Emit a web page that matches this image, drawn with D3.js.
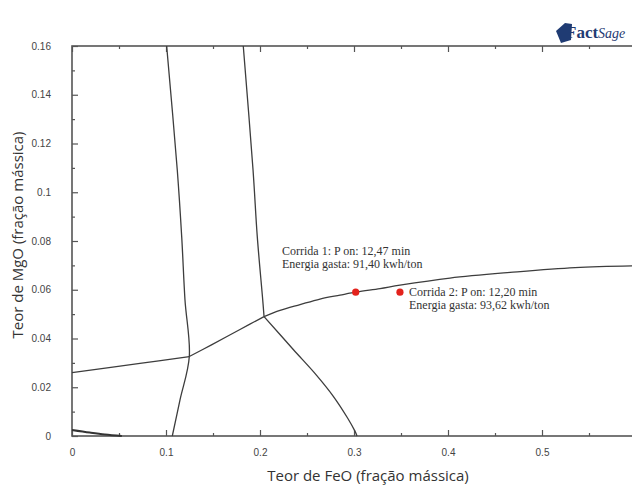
<!DOCTYPE html>
<html>
<head>
<meta charset="utf-8">
<script src="https://cdn.jsdelivr.net/npm/d3@7"></script>
<style>
  body { margin: 0; background: #fff; }
  svg { display: block; }
</style>
</head>
<body>
<div id="chartContainer"></div>
<script>

// tick values / labels
var xTickVals = [0, 0.1, 0.2, 0.3, 0.4, 0.5]
var xTickLabels = ['0', '0.1', '0.2', '0.3', '0.4', '0.5']
var yTickVals = [0, 0.02, 0.04, 0.06, 0.08, 0.1, 0.12, 0.14, 0.16]
var yTickLabels = ['0', '0.02', '0.04', '0.06', '0.08', '0.1', '0.12', '0.14', '0.16']

// phase boundaries, [FeO, MgO]
var boundaryA = [[0.1007, 0.16], [0.1120, 0.1091], [0.1167, 0.0818], [0.1202, 0.0558], [0.1248, 0.0326], [0.1149, 0.0148], [0.1067, 0]]
var boundaryB = [[0.1822, 0.16], [0.1926, 0.1091], [0.1971, 0.0818], [0.2029, 0.0558], [0.2043, 0.0490]]
var boundaryC = [[0.2043, 0.0490], [0.2354, 0.0355], [0.2600, 0.0250], [0.2780, 0.0163], [0.2930, 0.0075], [0.3010, 0.0020], [0.3032, 0]]
var boundaryLeft = [[0, 0.0260], [0.0723, 0.0298], [0.1248, 0.0326]]
var boundaryMid = [[0.1248, 0.0326], [0.1479, 0.0373], [0.1787, 0.0437], [0.2043, 0.0490]]
var boundaryRight = [[0.2043, 0.0490], [0.2213, 0.0515], [0.2426, 0.0539], [0.2638, 0.0562], [0.2851, 0.0578], [0.3032, 0.0591],
    [0.3277, 0.0605], [0.3489, 0.0619], [0.4021, 0.0648], [0.4660, 0.0671], [0.5351, 0.0691], [0.6, 0.0698]]
var boundaryCorner = [[0, 0.0025], [0.019, 0.0014], [0.035, 0.0006], [0.053, 0]]

// runs
var runFeO = [0.3018, 0.3489]
var runMgO = [0.0590, 0.0590]
var runLine1 = ['Corrida 1: P on: 12,47 min', 'Corrida 2: P on: 12,20 min']
var runLine2 = ['Energia gasta: 91,40 kwh/ton', 'Energia gasta: 93,62 kwh/ton']

var width = 632, height = 486
var margin = { left: 72, top: 46, bottom: 50 }

var svg = d3.select('#chartContainer').append('svg')
    .attr('width', width)
    .attr('height', height)

svg.append('rect').attr('width', width).attr('height', height).attr('fill', '#fff')

var xScale = d3.scaleLinear()
    .domain([0, 0.6])
    .range([margin.left, margin.left + 564])

var yScale = d3.scaleLinear()
    .domain([0, 0.16])
    .range([height - margin.bottom, margin.top])

var axisColor = '#555'

// minor ticks
var xMinor = d3.range(0.05, 0.6, 0.1)
var yMinor = d3.range(0.01, 0.16, 0.02)

function styleAxis(g) {
    g.select('.domain').remove()
    g.selectAll('line').attr('stroke', axisColor).attr('stroke-width', 1.2)
    g.selectAll('text').attr('fill', '#444').style('font-family', 'Liberation Sans, Arial, sans-serif').style('font-size', '10px')
}

var bottomY = yScale(0), topY = yScale(0.16)

svg.append('g')
    .attr('transform', 'translate(0,' + bottomY + ')')
    .call(d3.axisBottom(xScale).tickValues(xTickVals).tickSizeInner(-6).tickSizeOuter(0).tickPadding(13)
        .tickFormat(function(d, i) { return xTickLabels[i] }))
    .call(styleAxis)
svg.append('g')
    .attr('transform', 'translate(0,' + bottomY + ')')
    .call(d3.axisBottom(xScale).tickValues(xMinor).tickSizeInner(-3).tickSizeOuter(0).tickFormat(''))
    .call(styleAxis)

svg.append('g')
    .attr('transform', 'translate(0,' + topY + ')')
    .call(d3.axisTop(xScale).tickValues(xTickVals).tickSizeInner(-6).tickSizeOuter(0).tickFormat(''))
    .call(styleAxis)
svg.append('g')
    .attr('transform', 'translate(0,' + topY + ')')
    .call(d3.axisTop(xScale).tickValues(xMinor).tickSizeInner(-3).tickSizeOuter(0).tickFormat(''))
    .call(styleAxis)

svg.append('g')
    .attr('transform', 'translate(' + margin.left + ',0)')
    .call(d3.axisLeft(yScale).tickValues(yTickVals).tickSizeInner(-6).tickSizeOuter(0).tickPadding(21)
        .tickFormat(function(d, i) { return yTickLabels[i] }))
    .call(styleAxis)
svg.append('g')
    .attr('transform', 'translate(' + margin.left + ',0)')
    .call(d3.axisLeft(yScale).tickValues(yMinor).tickSizeInner(-3).tickSizeOuter(0).tickFormat(''))
    .call(styleAxis)

// frame
svg.append('rect')
    .attr('x', xScale(0))
    .attr('y', topY)
    .attr('width', xScale(0.6) - xScale(0))
    .attr('height', bottomY - topY)
    .attr('fill', 'none')
    .attr('stroke', axisColor)
    .attr('stroke-width', 1.6)

var line = d3.line()
    .x(function(d) { return xScale(d[0]) })
    .y(function(d) { return yScale(d[1]) })
    .curve(d3.curveCatmullRom.alpha(0.5))

var boundaries = [boundaryA, boundaryB, boundaryC, boundaryLeft, boundaryMid, boundaryRight]

svg.append('g').selectAll('path')
    .data(boundaries)
    .enter().append('path')
    .attr('d', line)
    .attr('fill', 'none')
    .attr('stroke', '#3d3d3d')
    .attr('stroke-width', 1.3)

svg.append('path')
    .attr('d', line(boundaryCorner))
    .attr('fill', 'none')
    .attr('stroke', '#333')
    .attr('stroke-width', 2)

// run points
svg.append('g').selectAll('circle')
    .data(runFeO)
    .enter().append('circle')
    .attr('cx', function(d) { return xScale(d) })
    .attr('cy', function(d, i) { return yScale(runMgO[i]) })
    .attr('r', 3.6)
    .attr('fill', '#e3221c')

// annotations
var notePos = [[282, 255], [409, 296]]
var notes = svg.append('g')
    .style('font-family', 'Liberation Serif, Times New Roman, serif')
    .style('font-size', '12px')
    .attr('fill', '#333')
notePos.forEach(function(p, i) {
    notes.append('text').attr('x', p[0]).attr('y', p[1]).text(runLine1[i])
    notes.append('text').attr('x', p[0]).attr('y', p[1] + 12.7).text(runLine2[i])
})

// axis titles
svg.append('text')
    .attr('x', 368)
    .attr('y', 481)
    .attr('text-anchor', 'middle')
    .attr('fill', '#333')
    .style('font-family', 'Open Sans, DejaVu Sans, sans-serif')
    .style('font-size', '15px')
    .text('Teor de FeO (fração mássica)')

svg.append('text')
    .attr('transform', 'translate(23,235) rotate(-90)')
    .attr('text-anchor', 'middle')
    .attr('fill', '#333')
    .style('font-family', 'Open Sans, DejaVu Sans, sans-serif')
    .style('font-size', '15px')
    .text('Teor de MgO (fração mássica)')

// FactSage logo
var logo = svg.append('g').attr('transform', 'translate(556,38)')
logo.append('path')
    .attr('d', 'M0,-7 L9,-15 L16,-14 L15,2 L5,5 Z')
    .attr('fill', '#1f3b73')
logo.append('text')
    .attr('x', 10)
    .attr('y', 0)
    .attr('fill', '#1f3b73')
    .style('font-family', 'Liberation Serif, serif')
    .style('font-weight', 'bold')
    .style('font-size', '17px')
    .text('Fact')
    .append('tspan')
    .style('font-weight', 'normal')
    .style('font-style', 'italic')
    .style('font-size', '14px')
    .text('Sage')

</script>
</body>
</html>
